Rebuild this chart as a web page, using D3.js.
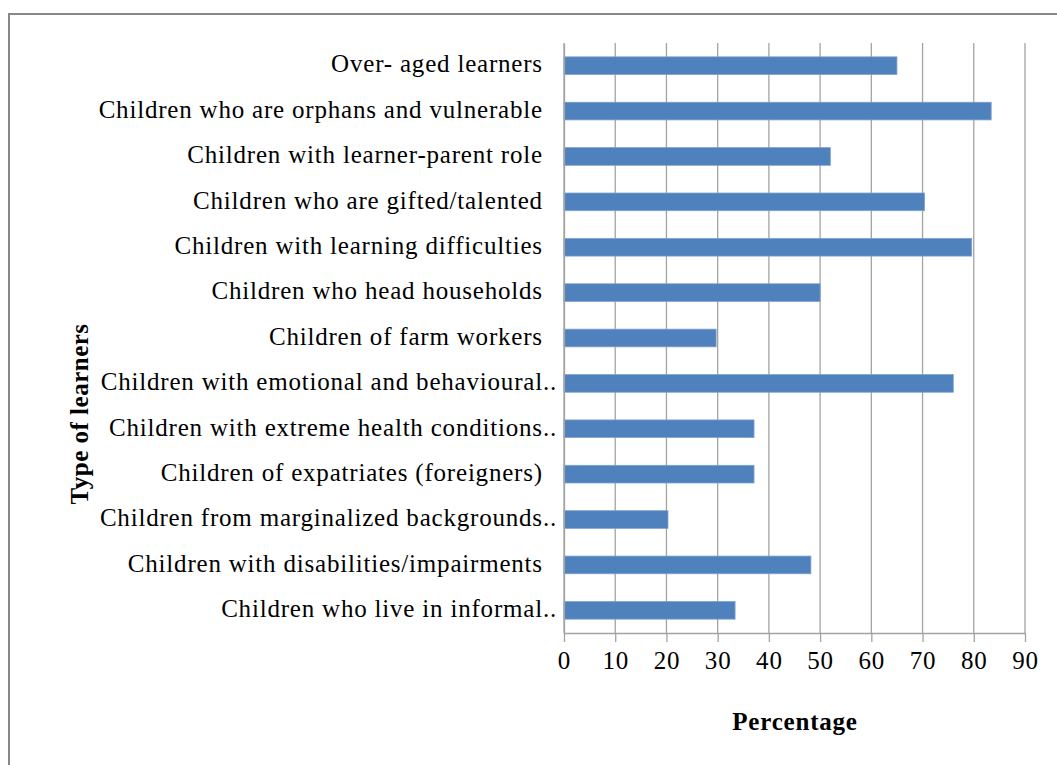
<!DOCTYPE html>
<html>
<head>
<meta charset="utf-8">
<script src="https://cdn.jsdelivr.net/npm/d3@7"></script>
<style>
  html, body { margin: 0; padding: 0; background: #fff; }
  svg { display: block; }
  text { font-family: "Liberation Serif", "Times New Roman", serif; fill: #000; }
</style>
</head>
<body>
<svg id="chart" width="1057" height="765"></svg>
<script>
// Learner types, top to bottom; trailing spaces keep the full names aligned as in the chart
const categories = [
  "Over- aged learners  ",
  "Children who are orphans and vulnerable  ",
  "Children with learner-parent role  ",
  "Children who are gifted/talented  ",
  "Children with learning difficulties  ",
  "Children who head households  ",
  "Children of farm workers  ",
  "Children with emotional and behavioural..",
  "Children with extreme health conditions..",
  "Children of expatriates (foreigners)  ",
  "Children from marginalized backgrounds..",
  "Children with disabilities/impairments  ",
  "Children who live in informal.."
];
const percentages = [65, 83.4, 52, 70.4, 79.6, 50, 29.7, 76, 37.1, 37.1, 20.3, 48.2, 33.4];
const xTicks = [0, 10, 20, 30, 40, 50, 60, 70, 80, 90];
const xTitle = "Percentage";
const yTitle = "Type of learners";

const serif = '"Liberation Serif", "Times New Roman", serif';
const data = categories.map((c, i) => ({ category: c, value: percentages[i] }));

const svg = d3.select("#chart");

// outer chart frame
svg.append("rect")
  .attr("x", 9).attr("y", 14)
  .attr("width", 1060).attr("height", 770)
  .attr("fill", "none")
  .attr("stroke", "#878787")
  .attr("stroke-width", 2);

const plot = { left: 564, right: 1025, top: 43, bottom: 633 };

const x = d3.scaleLinear().domain([0, 90]).range([plot.left, plot.right]);
const y = d3.scaleBand()
  .domain(categories)
  .range([plot.top, plot.bottom])
  .paddingInner(0.61)
  .paddingOuter(0.305);

// vertical gridlines
svg.append("g")
  .selectAll("line")
  .data(xTicks)
  .join("line")
  .attr("x1", d => x(d)).attr("x2", d => x(d))
  .attr("y1", plot.top).attr("y2", plot.bottom)
  .attr("stroke", "#a3a3a3")
  .attr("stroke-width", 1.3);

// bars
svg.append("g")
  .selectAll("rect")
  .data(data)
  .join("rect")
  .attr("x", x(0))
  .attr("y", d => y(d.category))
  .attr("width", d => x(d.value) - x(0))
  .attr("height", y.bandwidth())
  .attr("fill", "#4f81bd")
  .attr("stroke", "#7fa2d0")
  .attr("stroke-width", 0.8);

// bottom value axis
const xAxis = svg.append("g")
  .attr("transform", `translate(0,${plot.bottom})`)
  .call(d3.axisBottom(x).tickValues(xTicks).tickSize(9).tickPadding(9).tickSizeOuter(0))
  .attr("font-family", serif)
  .attr("font-size", 25);
xAxis.select(".domain").attr("stroke", "#a3a3a3").attr("stroke-width", 1.3);
xAxis.selectAll(".tick line").attr("stroke", "#a3a3a3").attr("stroke-width", 1.3);
xAxis.selectAll(".tick text")
  .style("font-family", serif)
  .style("font-size", "25px")
  .style("letter-spacing", "0.8px")
  .attr("fill", "#000");

// left category axis
const yAxis = svg.append("g")
  .attr("transform", `translate(${plot.left},0)`)
  .call(d3.axisLeft(y).tickSize(0).tickPadding(7))
  .attr("font-family", serif)
  .attr("font-size", 25);
yAxis.select(".domain").attr("stroke", "#a3a3a3").attr("stroke-width", 1.3);
yAxis.selectAll(".tick text")
  .style("font-family", serif)
  .style("font-size", "25px")
  .style("letter-spacing", "0.8px")
  .style("white-space", "pre")
  .attr("dy", "0.27em")
  .attr("fill", "#000");

// axis titles
svg.append("text")
  .attr("x", 795).attr("y", 730)
  .attr("text-anchor", "middle")
  .style("font-size", "25px")
  .style("font-weight", "bold")
  .style("letter-spacing", "0.8px")
  .text(xTitle);

svg.append("text")
  .attr("transform", "translate(88,414) rotate(-90)")
  .attr("text-anchor", "middle")
  .style("font-size", "25px")
  .style("font-weight", "bold")
  .style("letter-spacing", "0.5px")
  .text(yTitle);
</script>
</body>
</html>
